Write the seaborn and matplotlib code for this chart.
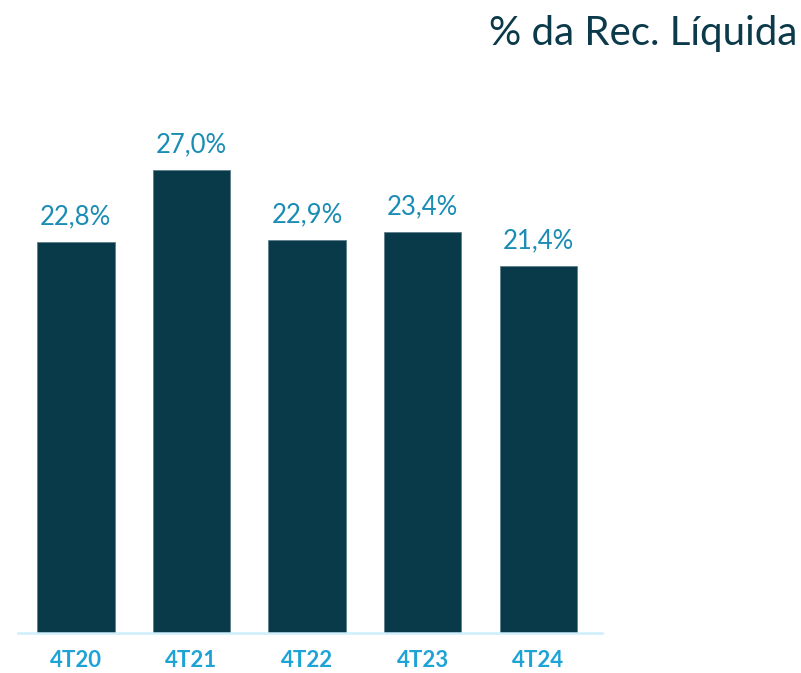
import matplotlib
matplotlib.use("Agg")
import matplotlib.pyplot as plt
import seaborn as sns
import pandas as pd

periods = ["4T20", "4T21", "4T22", "4T23", "4T24"]
values = [22.8, 27.0, 22.9, 23.4, 21.4]
labels = ["22,8%", "27,0%", "22,9%", "23,4%", "21,4%"]

sns.set_style("white")
plt.rcParams['font.family'] = ['Lato', 'DejaVu Sans']

df = pd.DataFrame({"periodo": periods, "valor": values})

fig = plt.figure(figsize=(8.01, 6.73), dpi=100)
ax = fig.add_axes([18 / 801, 40 / 673, 584 / 801, 533 / 673])

sns.barplot(data=df, x="periodo", y="valor", color="#083a4a", width=0.67,
            saturation=1, edgecolor="#5f7f8a", linewidth=0.6, ax=ax)

ax.set_xlim(-0.5, 4.55)
ax.set_ylim(0, 533 / 17.15)

for i, (v, lab) in enumerate(zip(values, labels)):
    ax.annotate(lab, (i, v), xytext=(0, 9), textcoords="offset points",
                ha="center", va="bottom", fontsize=18.5, color="#1a8cb5")

for s in ["top", "right", "left"]:
    ax.spines[s].set_visible(False)
ax.spines["bottom"].set_color("#cdeefa")
ax.spines["bottom"].set_linewidth(1.8)

ax.set_yticks([])
ax.set_xlabel("")
ax.set_ylabel("")
ax.tick_params(axis="x", length=0, pad=12)
for t in ax.get_xticklabels():
    t.set_fontsize(16)
    t.set_fontweight("bold")
    t.set_color("#1ea3d7")

fig.text(0.995, 0.95, "% da Rec. Líquida", ha="right", va="center",
         fontsize=29, color="#0b3a4a")

fig.savefig("out.png", dpi=100)
